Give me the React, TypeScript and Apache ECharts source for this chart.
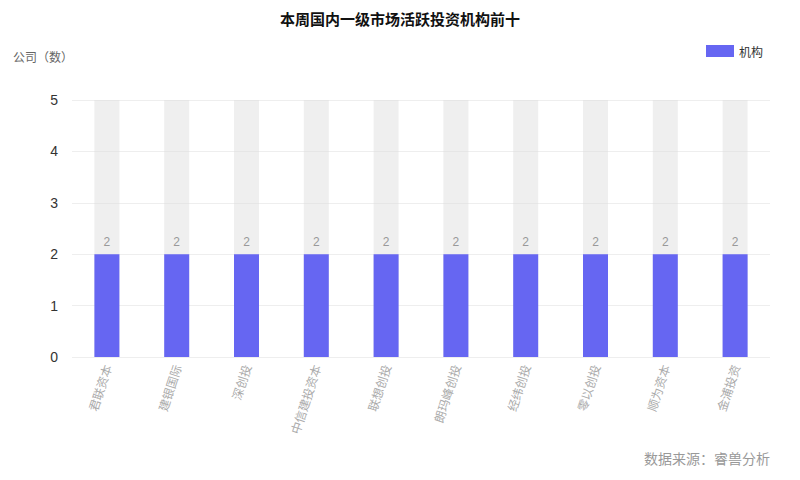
import React, { useEffect, useRef } from "react";
import * as echarts from "echarts";

const categories = ["君联资本", "建银国际", "深创投", "中信建投资本", "联想创投", "朗玛峰创投", "经纬创投", "零以创投", "顺为资本", "金浦投资"];
const values = [2, 2, 2, 2, 2, 2, 2, 2, 2, 2];
const seriesName = "机构";
const titleText = "本周国内一级市场活跃投资机构前十";
const yAxisName = "公司（数）";
const sourceText = "数据来源：睿兽分析";

export default function App() {
  const ref = useRef<HTMLDivElement>(null);
  useEffect(() => {
    const chart = echarts.init(ref.current!, null, { renderer: "svg" });
    const marks: any[] = [
      {
        type: "text",
        right: 30,
        top: 451,
        style: {
          text: sourceText,
          fontSize: 14,
          fill: "#999",
          fontFamily: "Noto Sans CJK SC",
        },
      },
      {
        type: "text",
        left: 13,
        top: 50,
        style: {
          text: yAxisName,
          fontSize: 12,
          fill: "#666",
          fontFamily: "Noto Sans CJK SC",
        },
      },
    ];
    chart.setOption({
      animation: false,
      backgroundColor: "#fff",
      title: {
        text: titleText,
        left: "center",
        top: 6,
        textStyle: { fontSize: 15, fontWeight: "bold", color: "#111", fontFamily: "Noto Sans CJK SC" },
      },
      legend: {
        right: 32,
        top: 40,
        icon: "rect",
        itemWidth: 28,
        itemHeight: 12,
        itemGap: 8,
        textStyle: { fontSize: 12, color: "#333", fontFamily: "Noto Sans CJK SC" },
        data: [seriesName],
      },
      grid: { left: 72, right: 30, top: 100, bottom: 123 },
      xAxis: {
        type: "category",
        data: categories,
        axisLine: { show: false },
        axisTick: { show: false },
        axisLabel: {
          rotate: 72,
          color: "#aaa",
          fontSize: 12,
          interval: 0,
          margin: 8,
          fontFamily: "Noto Sans CJK SC",
        },
      },
      yAxis: {
        type: "value",
        min: 0,
        max: 5,
        interval: 1,
        axisLine: { show: false },
        axisTick: { show: false },
        axisLabel: { color: "#333", fontSize: 14, margin: 14 },
        splitLine: { lineStyle: { color: "#eeeeee" } },
      },
      graphic: marks,
      series: [
        {
          name: seriesName,
          type: "bar",
          data: values,
          barWidth: 25,
          itemStyle: { color: "#6666f2" },
          showBackground: true,
          backgroundStyle: { color: "rgba(220,220,220,0.45)" },
          label: { show: true, position: "top", color: "#999", fontSize: 12, distance: 6 },
        },
      ],
    });
    return () => chart.dispose();
  }, []);
  return <div ref={ref} style={{ width: 800, height: 480, margin: -8 }} />;
}
